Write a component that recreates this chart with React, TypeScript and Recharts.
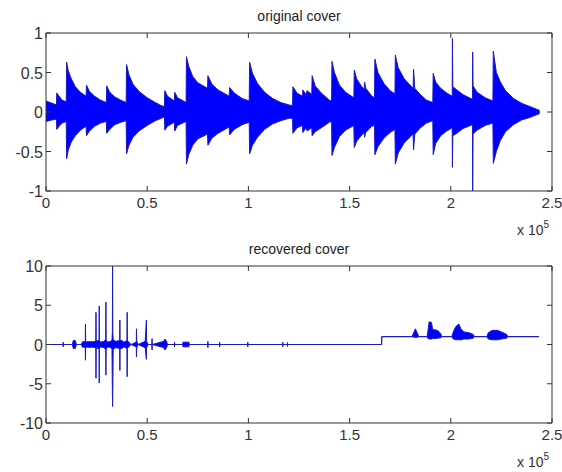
import React from "react";
import { ComposedChart, Area, XAxis, YAxis } from "recharts";

// x positions in samples; tick labels are in units of 1e5
const X_TICKS = [0, 50000, 100000, 150000, 200000, 250000];
const X_TICK_LABELS = ["0", "0.5", "1", "1.5", "2", "2.5"];
const Y1_TICKS = [-1, -0.5, 0, 0.5, 1];
const Y1_TICK_LABELS = ["-1", "-0.5", "0", "0.5", "1"];
const Y2_TICKS = [-10, -5, 0, 5, 10];
const Y2_TICK_LABELS = ["-10", "-5", "0", "5", "10"];
const TITLES = ["original cover", "recovered cover"];

// original cover: envelope [sample, upper, lower]
const ORIGINAL: [number, number, number][] = [
  [0, 0.14, -0.12], [3000, 0.11, -0.1], [5200, 0.09, -0.09],
  [5300, 0.24, -0.22], [6500, 0.2, -0.18], [8000, 0.15, -0.14], [10000, 0.13, -0.12],
  [10200, 0.63, -0.59], [11000, 0.52, -0.48], [12500, 0.42, -0.38], [14500, 0.32, -0.3], [17000, 0.25, -0.23], [19800, 0.2, -0.18],
  [20000, 0.34, -0.3], [21500, 0.26, -0.24], [24000, 0.2, -0.18], [27000, 0.15, -0.14], [29800, 0.12, -0.12],
  [30000, 0.33, -0.27], [31500, 0.25, -0.22], [34000, 0.19, -0.16], [37000, 0.15, -0.13], [39600, 0.12, -0.11],
  [39800, 0.6, -0.53], [41000, 0.47, -0.42], [43000, 0.35, -0.32], [46000, 0.26, -0.24], [50000, 0.18, -0.17], [54000, 0.12, -0.11], [57000, 0.08, -0.08], [58500, 0.07, -0.06],
  [58700, 0.27, -0.23], [60000, 0.2, -0.18], [63400, 0.14, -0.13],
  [63600, 0.25, -0.24], [65000, 0.18, -0.17], [69200, 0.12, -0.12],
  [69400, 0.7, -0.66], [70500, 0.58, -0.54], [72500, 0.45, -0.42], [75000, 0.37, -0.34], [79800, 0.3, -0.28],
  [80000, 0.46, -0.42], [82000, 0.35, -0.33], [85000, 0.28, -0.27], [90500, 0.2, -0.19],
  [90700, 0.31, -0.29], [93000, 0.24, -0.22], [97000, 0.17, -0.16], [100400, 0.14, -0.13],
  [100600, 0.63, -0.53], [102000, 0.49, -0.42], [104500, 0.36, -0.32], [108000, 0.25, -0.22], [112000, 0.17, -0.15], [116000, 0.12, -0.11], [120000, 0.09, -0.08], [121800, 0.08, -0.08],
  [122000, 0.32, -0.27], [124000, 0.24, -0.2], [126700, 0.2, -0.17],
  [126900, 0.28, -0.26], [128500, 0.22, -0.2], [129000, 0.27, -0.24], [131300, 0.22, -0.2],
  [131500, 0.46, -0.3], [133000, 0.33, -0.25], [136000, 0.24, -0.2], [140000, 0.15, -0.13], [141100, 0.14, -0.12],
  [141300, 0.64, -0.55], [142500, 0.5, -0.45], [145000, 0.34, -0.31], [148000, 0.25, -0.23], [152100, 0.18, -0.17],
  [152300, 0.53, -0.45], [153500, 0.42, -0.37], [156000, 0.32, -0.29], [157200, 0.29, -0.26],
  [157400, 0.38, -0.32], [158000, 0.3, -0.26], [161000, 0.2, -0.18], [162300, 0.18, -0.17],
  [162500, 0.67, -0.54], [164000, 0.5, -0.44], [167000, 0.36, -0.33], [170000, 0.27, -0.26], [172400, 0.23, -0.22],
  [172600, 0.72, -0.66], [174000, 0.56, -0.52], [177000, 0.42, -0.39], [181400, 0.3, -0.28],
  [181600, 0.54, -0.48], [182200, 0.3, -0.28], [185000, 0.22, -0.2], [188000, 0.15, -0.14], [191100, 0.12, -0.11],
  [191300, 0.49, -0.54], [192500, 0.38, -0.4], [195000, 0.3, -0.3], [198000, 0.24, -0.24], [200700, 0.2, -0.2],
  [200800, 0.93, -0.7], [201000, 0.32, -0.3], [203000, 0.28, -0.27], [206000, 0.22, -0.21], [210700, 0.16, -0.16],
  [210800, 0.76, -1.0], [211000, 0.33, -0.28], [213000, 0.25, -0.23], [217000, 0.18, -0.17], [220800, 0.14, -0.14],
  [221000, 0.77, -0.65], [222500, 0.5, -0.5], [224500, 0.38, -0.36], [227000, 0.27, -0.25], [231000, 0.17, -0.16], [235000, 0.11, -0.1], [239000, 0.07, -0.07], [243900, 0.02, -0.02],
];

// recovered cover: envelope [sample, upper, lower]
const RECOVERED: [number, number, number][] = [
  [0, 0, 0], [8400, 0, 0], [8500, 0.3, -0.3], [8600, 0, 0],
  [13000, 0, 0], [13500, 0.5, -0.5], [14500, 0.5, -0.5], [15000, 0, 0],
  [17500, 0, 0], [18000, 0.35, -0.35], [19400, 0.35, -0.35], [19500, 2.6, -2.0], [19600, 0.35, -0.35],
  [23000, 0.35, -0.35], [24600, 0.4, -0.4], [24700, 4.1, -4.3], [24800, 0.4, -0.4],
  [25500, 0.5, -0.5], [26200, 0.5, -0.5], [26300, 4.9, -4.9], [26400, 0.5, -0.5],
  [27000, 0.3, -0.3], [28500, 0.4, -0.4], [29500, 0.6, -0.6], [29600, 5.4, -3.9], [29700, 0.6, -0.6],
  [30500, 0.3, -0.3], [32000, 0.4, -0.4], [32600, 0.6, -0.6], [32800, 1.6, -6.0], [32900, 10, -7.9], [33000, 1.6, -6.0], [33200, 0.6, -0.6],
  [34500, 0.4, -0.4], [36400, 0.5, -0.5], [36500, 3.1, -3.3], [36600, 0.5, -0.5],
  [37500, 0.5, -0.5], [38500, 0.3, -0.3], [40000, 0.5, -0.5], [40100, 4.1, -4.1], [40200, 0.5, -0.5],
  [41000, 0.3, -0.3], [42000, 0, 0], [44600, 0.3, -0.3], [44700, 2.0, -1.6], [44800, 0.5, -0.5], [45500, 0, 0],
  [49000, 0.4, -0.4], [49600, 3.1, -1.9], [49700, 0.4, -0.4], [50500, 0, 0],
  [52300, 0, 0], [52400, 0.75, -0.7], [52500, 0, 0],
  [58200, 0.4, -0.4], [58700, 0.7, -0.7], [59600, 0.4, -0.4], [60000, 0, 0],
  [63400, 0, 0], [63500, 0.3, -0.3], [63600, 0, 0],
  [67500, 0, 0], [67700, 0.3, -0.3], [70600, 0.3, -0.3], [70800, 0, 0],
  [79900, 0, 0], [80000, 0.4, -0.4], [80100, 0, 0],
  [85700, 0, 0], [85800, 0.3, -0.3], [85900, 0, 0],
  [99600, 0, 0], [99700, 0.3, -0.3], [99800, 0, 0],
  [116900, 0, 0], [117000, 0.3, -0.3], [117100, 0, 0],
  [119200, 0, 0], [119300, 0.25, -0.25], [119400, 0, 0],
  [165800, 0, 0], [165900, 1, 1],
  [180800, 1, 1], [181500, 1.4, 0.95], [182500, 2.0, 0.9], [183200, 1.6, 0.9], [184200, 1, 1],
  [188300, 1, 1], [188600, 1.5, 0.8], [189300, 2.9, 0.7], [190500, 2.8, 0.7], [191000, 1.9, 0.75], [193500, 1.8, 0.8], [195000, 1.4, 0.85], [195500, 1, 1],
  [200500, 1, 1], [201200, 1.6, 0.7], [202500, 2.3, 0.6], [204000, 2.6, 0.6], [205000, 2.0, 0.6], [206500, 1.6, 0.7], [209000, 1.5, 0.7], [211000, 1.3, 0.8], [211800, 1, 1],
  [217800, 1, 1], [218500, 1.5, 0.7], [220500, 1.8, 0.6], [223000, 1.8, 0.6], [225000, 1.6, 0.7], [227500, 1.3, 0.8], [228200, 1, 1],
  [243600, 1, 1],
];

const FONT = "'Liberation Sans', Arial, Helvetica, sans-serif";
const AXIS = "#333333";
const Y_TICK_FS = 16;
const X_TICK_FS = 15;

const toRows = (env: [number, number, number][]) =>
  env.map(([t, hi, lo]) => ({ t, range: [lo, hi] }));

function makeBottomTick(labels: string[], ticks: number[]) {
  return (props: any) => {
    const { x, y, payload } = props;
    const idx = ticks.indexOf(payload.value);
    const isLast = idx === ticks.length - 1;
    return (
      <g>
        <line x1={x} x2={x} y1={y} y2={y - 5} stroke={AXIS} />
        <text x={x} y={y + 17} textAnchor="middle" fontFamily={FONT} fontSize={X_TICK_FS} fill="#333">
          {labels[idx]}
        </text>
        {isLast && (
          <text x={x - 35} y={y + 44} fontFamily={FONT} fontSize={14} fill="#333">
            x 10
            <tspan dy={-7} fontSize={10}>5</tspan>
          </text>
        )}
      </g>
    );
  };
}

const topTick = (props: any) => {
  const { x, y } = props;
  return <line x1={x} x2={x} y1={y} y2={y + 5} stroke={AXIS} />;
};

function makeLeftTick(labels: string[], ticks: number[]) {
  return (props: any) => {
    const { x, y, payload } = props;
    const idx = ticks.indexOf(payload.value);
    return (
      <g>
        <line x1={x} x2={x + 5} y1={y} y2={y} stroke={AXIS} />
        <text x={x - 3} y={y + 6} textAnchor="end" fontFamily={FONT} fontSize={Y_TICK_FS} fill="#333">
          {labels[idx]}
        </text>
      </g>
    );
  };
}

const rightTick = (props: any) => {
  const { x, y } = props;
  return <line x1={x} x2={x - 5} y1={y} y2={y} stroke={AXIS} />;
};

function titleLabel(title: string) {
  return (props: any) => {
    const vb = props.viewBox || {};
    return (
      <text
        x={vb.x + vb.width / 2}
        y={vb.y + vb.height - 12.5}
        textAnchor="middle"
        fontFamily={FONT}
        fontSize={14}
        fill="#222"
      >
        {title}
      </text>
    );
  };
}

function Panel(props: {
  data: any[];
  yTicks: number[];
  yLabels: string[];
  title: string;
  height: number;
  topH: number;
}) {
  const { data, yTicks, yLabels, title, height, topH } = props;
  const dom: [number, number] = [yTicks[0], yTicks[yTicks.length - 1]];
  return (
    <ComposedChart width={562} height={height} data={data} margin={{ top: 0, right: 0, bottom: 0, left: 0 }}>
      <XAxis
        xAxisId="b"
        dataKey="t"
        type="number"
        domain={[0, 250000]}
        ticks={X_TICKS}
        interval={0}
        allowDataOverflow
        height={49}
        tickSize={0}
        tickMargin={0}
        stroke={AXIS}
        tick={makeBottomTick(X_TICK_LABELS, X_TICKS)}
      />
      <XAxis
        xAxisId="top"
        orientation="top"
        dataKey="t"
        type="number"
        domain={[0, 250000]}
        ticks={X_TICKS}
        interval={0}
        allowDataOverflow
        height={topH}
        tickSize={0}
        tickMargin={0}
        stroke={AXIS}
        tick={topTick}
        label={titleLabel(title)}
      />
      <YAxis
        yAxisId="l"
        type="number"
        domain={dom}
        ticks={yTicks}
        interval={0}
        allowDataOverflow
        width={46}
        tickSize={0}
        tickMargin={0}
        stroke={AXIS}
        tick={makeLeftTick(yLabels, yTicks)}
      />
      <YAxis
        yAxisId="r"
        orientation="right"
        type="number"
        domain={dom}
        ticks={yTicks}
        interval={0}
        allowDataOverflow
        width={10}
        tickSize={0}
        tickMargin={0}
        stroke={AXIS}
        tick={rightTick}
      />
      <Area
        xAxisId="b"
        yAxisId="l"
        type="linear"
        dataKey="range"
        stroke="#1a1ac0"
        strokeWidth={1}
        fill="#0000ff"
        fillOpacity={1}
        isAnimationActive={false}
        dot={false}
        activeDot={false}
      />
    </ComposedChart>
  );
}

export default function App() {
  const d1 = toRows(ORIGINAL);
  const d2 = toRows(RECOVERED);
  return (
    <div style={{ position: "absolute", left: 0, top: 0, width: 562, height: 472, background: "#fff" }}>
      <div style={{ position: "absolute", left: 0, top: 0 }}>
        <Panel data={d1} yTicks={Y1_TICKS} yLabels={Y1_TICK_LABELS} title={TITLES[0]} height={240} topH={33} />
      </div>
      <div style={{ position: "absolute", left: 0, top: 240 }}>
        <Panel data={d2} yTicks={Y2_TICKS} yLabels={Y2_TICK_LABELS} title={TITLES[1]} height={232} topH={26} />
      </div>
    </div>
  );
}
